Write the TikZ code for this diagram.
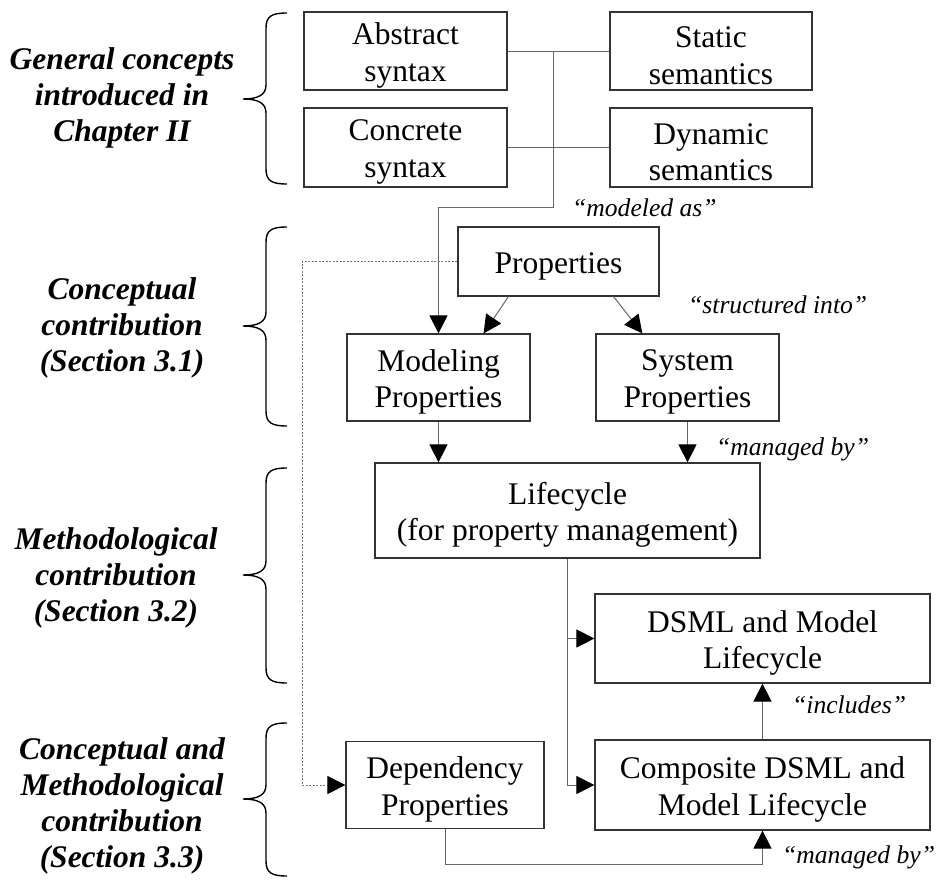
\documentclass[tikz,border=0pt]{standalone}
\usepackage{fontspec}
\setmainfont{Liberation Serif}
\usetikzlibrary{arrows.meta}

% curly brace opening to the right: top y, tip y, bottom y
\newcommand\sectbrace[3]{%
  \draw[curly] (287,#1) .. controls (272,#1) and (266,#1+3) .. (266,#1+15)
    -- (266,#2-14) .. controls (266,#2-4) and (258,#2) .. (243,#2)
    .. controls (258,#2) and (266,#2+4) .. (266,#2+14)
    -- (266,#3-15) .. controls (266,#3-3) and (272,#3) .. (287,#3);}

% framed box: name, centre, width, height, text (text sits slightly low)
\newcommand\framedbox[5]{%
  \node[box, minimum width=#3pt, minimum height=#4pt] (#1) at (#2) {};
  \node[boxtext] (#1-t) at ([yshift=-4.5pt]#1.center) {#5};}

\begin{document}
\begin{tikzpicture}[x=1pt,y=-1pt,
  box/.style={draw=black!80, line width=1.2pt, inner sep=0pt},
  boxtext/.style={align=center, inner sep=0pt, font=\fontsize{31.5}{36.5}\selectfont},
  conn/.style={draw=black!60, line width=1pt},
  tip/.style={-{Triangle[length=18pt,width=18pt,color=black]}},
  dotline/.style={draw=black!55, line width=0.8pt, dash pattern=on 2pt off 1.5pt},
  note/.style={font=\fontsize{25.6}{30}\selectfont\itshape, inner sep=0pt, anchor=base west},
  part/.style={font=\fontsize{31.5}{36}\selectfont\bfseries\itshape, align=center, inner sep=0pt},
  curly/.style={line width=1.4pt, black}
]
\useasboundingbox (0,0) rectangle (938,884);

% section captions on the left
\node[part] (p1) at (122,98)  {General concepts\\introduced in\\Chapter II};
\node[part] (p2) at (122,328) {Conceptual\\contribution\\(Section 3.1)};
\node[part] (p3) at (116,578) {Methodological\\contribution\\(Section 3.2)};
\node[part] (p4) at (122,806) {Conceptual and\\Methodological\\contribution\\(Section 3.3)};

\sectbrace{13}{99}{184}
\sectbrace{227}{326}{426}
\sectbrace{468}{575}{683}
\sectbrace{723}{799}{876}

% boxes
\framedbox{abs}{405.5,51}{203}{78}{Abstract\\syntax}
\framedbox{sta}{711,51}{202}{78}{Static\\semantics}
\framedbox{con}{405.5,147.5}{203}{79}{Concrete\\syntax}
\framedbox{dyn}{711,147.5}{202}{79}{Dynamic\\semantics}
\framedbox{prop}{558.5,261.5}{201}{69}{Properties}
\framedbox{mod}{438.5,377.5}{183}{87}{Modeling\\Properties}
\framedbox{sys}{687.5,377.5}{183}{87}{System\\Properties}
\framedbox{life}{567.5,510.5}{385}{95}{Lifecycle\\(for property management)}
\framedbox{dsml}{762.5,638.5}{335}{89}{DSML and Model\\Lifecycle}
\framedbox{comp}{762.5,785}{335}{90}{Composite DSML and\\Model Lifecycle}
\framedbox{dep}{445,785}{198}{87}{Dependency\\Properties}

% junction points
\coordinate (j1) at (553,51);
\coordinate (j2) at (553,207);
\coordinate (j3) at (302,261.5);
\coordinate (j4) at (302,785);
\coordinate (j5) at (445,864);
\coordinate (j6) at (762.5,864);
\coordinate (ps1) at ([xshift=51pt]prop.south west);
\coordinate (ps2) at ([xshift=-46pt]prop.south east);
\coordinate (mt1) at ([xshift=-47pt]mod.north east);
\coordinate (st1) at ([xshift=47pt]sys.north west);

% connectors
\draw[conn] (abs.east) -- (sta.west);
\draw[conn] (con.east) -- (dyn.west);
\draw[conn,tip] (j1) -- (j2) -- (j2 -| mod.north) -- (mod.north);
\draw[conn,tip] (ps1) -- (mt1);
\draw[conn,tip] (ps2) -- (st1);
\draw[conn,tip] (mod.south) -- (mod.south |- life.north);
\draw[conn,tip] (sys.south) -- (sys.south |- life.north);
\draw[conn,tip] (life.south) -- (life.south |- comp.west) -- (comp.west);
\draw[conn,tip] (life.south |- dsml.west) -- (dsml.west);
\draw[conn,tip] (comp.north) -- (dsml.south);
\draw[conn,tip] (dep.south) -- (j5) -- (j6) -- (comp.south);
\draw[dotline,tip] (prop.west) -- (j3) -- (j4) -- (dep.west);

% connector labels
\node[note] (l1) at (572,216) {“modeled as”};
\node[note] (l2) at (688,313) {“structured into”};
\node[note] (l3) at (716,455) {“managed by”};
\node[note] (l4) at (792,713) {“includes”};
\node[note] (l5) at (782,863) {“managed by”};
\end{tikzpicture}
\end{document}
